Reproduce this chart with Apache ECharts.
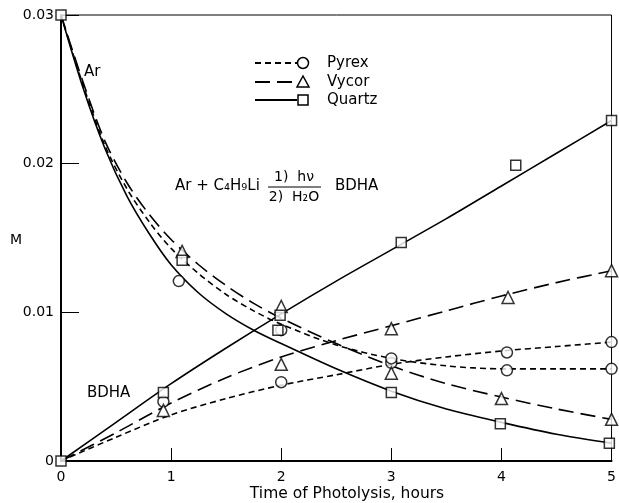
<!DOCTYPE html>
<html>
<head>
<meta charset="utf-8">
<script src="https://cdn.jsdelivr.net/npm/echarts@6/dist/echarts.min.js"></script>
<style>html,body{margin:0;padding:0;background:#fff;}#c{width:619px;height:503px;}</style>
</head>
<body>
<div id="c"></div>
<script>
// ---- data (M) ----
const xTickLabels = ['0','1','2','3','4','5'];
const yTickLabels = ['0','0.01','0.02','0.03'];

// fitted curves
const arCurveX = [0,0.2,0.4,0.6,0.8,1,1.25,1.5,1.75,2,2.5,3,3.5,4,4.5,5];
const quartzArCurve = [0.0300,0.0251,0.0210,0.0178,0.0153,0.0132,0.0113,0.0099,0.0088,0.0079,0.0062,0.0047,0.0035,0.0026,0.0018,0.0012];
const pyrexArCurve  = [0.0300,0.0253,0.0212,0.0183,0.0161,0.0143,0.0126,0.0112,0.0101,0.0092,0.0078,0.0069,0.0064,0.0062,0.0062,0.0062];
const vycorArCurve  = [0.0300,0.0255,0.0215,0.0187,0.0166,0.0149,0.0132,0.0118,0.0106,0.0096,0.0079,0.0064,0.0052,0.0043,0.0035,0.0028];

const bdhaCurveX = [0,0.5,1,1.5,2,2.5,3,3.5,4,4.5,5];
const quartzBdhaCurve = [0,0.0026,0.0052,0.0076,0.0099,0.0121,0.0142,0.0163,0.0185,0.0207,0.0229];
const vycorBdhaCurve  = [0,0.0019,0.0039,0.0056,0.0070,0.0081,0.0091,0.0101,0.0111,0.0120,0.0128];
const pyrexBdhaCurve  = [0,0.0016,0.0031,0.0042,0.0051,0.0058,0.0065,0.0070,0.0074,0.0077,0.0080];

// measured points [hours, M]
const pyrexArPts   = [[1.07,0.0121],[2.0,0.0088],[3.0,0.0066],[4.05,0.0061],[5,0.0062]];
const pyrexBdhaPts = [[0.93,0.0040],[2.0,0.0053],[3.0,0.0069],[4.05,0.0073],[5,0.0080]];
const vycorArPts   = [[1.1,0.0141],[2.0,0.0104],[3.0,0.0059],[4.0,0.0042],[5,0.0028]];
const vycorBdhaPts = [[0.93,0.0034],[2.0,0.0065],[3.0,0.0089],[4.06,0.0110],[5,0.0128]];
const quartzArPts  = [[0,0.0300],[1.1,0.0135],[1.97,0.0088],[3.0,0.0046],[3.99,0.0025],[4.98,0.0012]];
const quartzBdhaPts= [[0,0],[0.93,0.0046],[1.99,0.0098],[3.09,0.0147],[4.13,0.0199],[5,0.0229]];

const FONT = 'DejaVu Sans';
const SHORT = [6,4];
const LONG = [15,7];

function pair(xs, ys){ return xs.map((x,i)=>[x, ys[i]]); }
function curve(name, xs, ys, dash){
  return {type:'line', name:name, data:pair(xs,ys), showSymbol:false, smooth:0.3,
    z:2, silent:true,
    lineStyle:{color:'#000', width:1.6, type:dash}};
}
function pts(name, data, symbol, size){
  return {type:'scatter', name:name, data:data, symbol:symbol, symbolSize:size, z:5,
    itemStyle:{color:'#fff', borderColor:'#000', borderWidth:1.5}};
}

const chart = echarts.init(document.getElementById('c'), null, {renderer:'canvas'});

function legendRow(y, dash, symbolShape, label){
  const items = [
    {type:'line', shape:{x1:255,y1:y,x2:297,y2:y}, style:{stroke:'#000', lineWidth:2, lineDash:dash||null}},
    {type:'text', style:{text:label, x:327, y:y, font:'15px "'+FONT+'"', fill:'#000', textVerticalAlign:'middle'}}
  ];
  items.push(symbolShape(y));
  return items;
}
const mk = {fill:'#fff', stroke:'#000', lineWidth:1.5};
const legendItems = [].concat(
  legendRow(63, SHORT, y=>({type:'circle', shape:{cx:303,cy:y,r:5.5}, style:mk}), 'Pyrex'),
  legendRow(82, LONG, y=>({type:'polygon', shape:{points:[[303,y-6],[297,y+5],[309,y+5]]}, style:mk}), 'Vycor'),
  legendRow(100, null, y=>({type:'rect', shape:{x:298,y:y-5,width:10,height:10}, style:mk}), 'Quartz')
);

const annot = [
  {type:'text', style:{text:'Ar', x:84, y:72, font:'15px "'+FONT+'"', fill:'#000', textVerticalAlign:'middle'}},
  {type:'text', style:{text:'BDHA', x:87, y:393, font:'15px "'+FONT+'"', fill:'#000', textVerticalAlign:'middle'}},
  {type:'text', style:{text:'Ar + C₄H₉Li', x:175, y:186, font:'15px "'+FONT+'"', fill:'#000', textVerticalAlign:'middle'}},
  {type:'text', style:{text:'1)  hν', x:294, y:177, font:'14px "'+FONT+'"', fill:'#000', textAlign:'center', textVerticalAlign:'middle'}},
  {type:'line', shape:{x1:268,y1:187,x2:321,y2:187}, style:{stroke:'#000', lineWidth:1.2}},
  {type:'text', style:{text:'2)  H₂O', x:294, y:197, font:'14px "'+FONT+'"', fill:'#000', textAlign:'center', textVerticalAlign:'middle'}},
  {type:'text', style:{text:'BDHA', x:335, y:186, font:'15px "'+FONT+'"', fill:'#000', textVerticalAlign:'middle'}},
  {type:'text', style:{text:'M', x:16, y:240, font:'14px "'+FONT+'"', fill:'#000', textAlign:'center', textVerticalAlign:'middle'}},
  {type:'text', style:{text:'Time of Photolysis, hours', x:347, y:494, font:'15.5px "'+FONT+'"', fill:'#000', textAlign:'center', textVerticalAlign:'middle'}}
];

chart.setOption({
  animation:false,
  backgroundColor:'#fff',
  grid:{left:61, right:7, top:15, bottom:42, show:true, borderColor:'#000', borderWidth:1},
  xAxis:{type:'value', min:0, max:5, interval:1,
    axisLine:{show:true, lineStyle:{color:'#000', width:2}},
    axisTick:{show:true, inside:true, length:13, lineStyle:{color:'#000', width:1}},
    splitLine:{show:false},
    axisLabel:{color:'#000', fontFamily:FONT, fontSize:14, margin:9,
      formatter:(v)=>xTickLabels[Math.round(v)]}},
  yAxis:{type:'value', min:0, max:0.03, interval:0.01,
    axisLine:{show:true, lineStyle:{color:'#000', width:2}},
    axisTick:{show:true, inside:true, length:18, lineStyle:{color:'#000', width:1}},
    splitLine:{show:false},
    axisLabel:{color:'#000', fontFamily:FONT, fontSize:14, margin:7,
      formatter:(v)=>yTickLabels[Math.round(v*100)]}},
  graphic: legendItems.concat(annot),
  series:[
    curve('Pyrex Ar', arCurveX, pyrexArCurve, SHORT),
    curve('Vycor Ar', arCurveX, vycorArCurve, LONG),
    curve('Quartz Ar', arCurveX, quartzArCurve, 'solid'),
    curve('Pyrex BDHA', bdhaCurveX, pyrexBdhaCurve, SHORT),
    curve('Vycor BDHA', bdhaCurveX, vycorBdhaCurve, LONG),
    curve('Quartz BDHA', bdhaCurveX, quartzBdhaCurve, 'solid'),
    pts('Pyrex', pyrexArPts.concat(pyrexBdhaPts), 'circle', 11),
    pts('Vycor', vycorArPts.concat(vycorBdhaPts), 'triangle', 12),
    pts('Quartz', quartzArPts.concat(quartzBdhaPts), 'rect', 10)
  ]
});
</script>
</body>
</html>
